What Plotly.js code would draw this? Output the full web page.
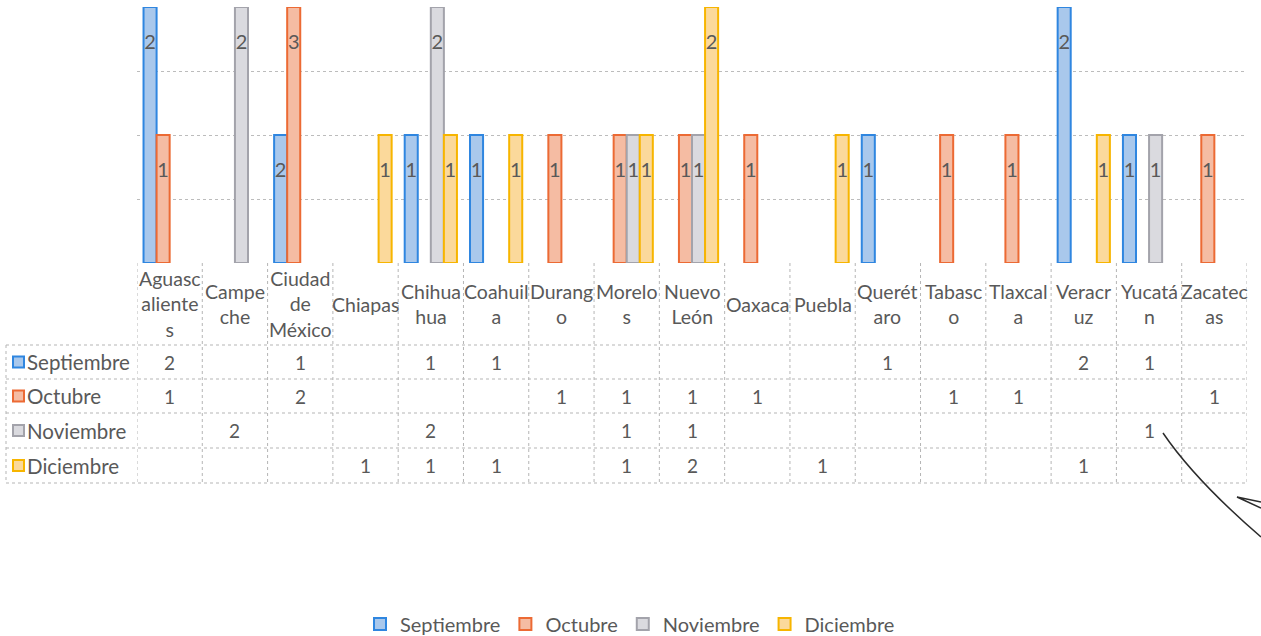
<!DOCTYPE html>
<html>
<head>
<meta charset="utf-8">
<script src="https://cdn.plot.ly/plotly-3.0.1.min.js"></script>
<style>html,body{margin:0;padding:0;background:#fff;}#chart{width:1261px;height:636px;}</style>
</head>
<body>
<div id="chart"></div>
<script>
// ---- Data ----
const categories = ['Aguascalientes','Campeche','Ciudad de México','Chiapas','Chihuahua','Coahuila','Durango','Morelos','Nuevo León','Oaxaca','Puebla','Querétaro','Tabasco','Tlaxcala','Veracruz','Yucatán','Zacatecas'];
const headerLabels = ['Aguasc<br>aliente<br>s','Campe<br>che','Ciudad<br>de<br>México','Chiapas','Chihua<br>hua','Coahuil<br>a','Durang<br>o','Morelo<br>s','Nuevo<br>León','Oaxaca','Puebla','Querét<br>aro','Tabasc<br>o','Tlaxcal<br>a','Veracr<br>uz','Yucatá<br>n','Zacatec<br>as'];
const seriesNames = ['Septiembre','Octubre','Noviembre','Diciembre'];
const septiembre = [2,null,1,null,1,1,null,null,null,null,null,1,null,null,2,1,null];
const octubre    = [1,null,2,null,null,null,1,1,1,1,null,null,1,1,null,null,1];
const noviembre  = [null,2,null,null,2,null,null,1,1,null,null,null,null,null,null,1,null];
const diciembre  = [null,null,null,1,1,1,null,1,2,null,1,null,null,null,1,null,null];
// data labels as printed on the bars
const septiembreLabels = ['2','','2','','1','1','','','','','','1','','','2','1',''];
const octubreLabels    = ['1','','3','','','','1','1','1','1','','','1','1','','','1'];
const noviembreLabels  = ['','2','','','2','','','1','1','','','','','','','1',''];
const diciembreLabels  = ['','','','1','1','1','','1','2','','1','','','','1','',''];

// ---- Style ----
const fills = ['#a9c8ec','#f5bca3','#dadadf','#fbd99b'];
const lines = ['#2f86e0','#ec6a34','#a3a3ab','#f7b500'];
const txt = '#595959';
const FONT = 'Lato, "Liberation Sans", sans-serif';

const W = 1261, H = 636;
const plotL = 137, plotR = 1247, plotT = 7, plotB = 263;
const pw = plotR - plotL, ph = plotB - plotT;
const px = v => (v - plotL) / pw;
const py = v => (plotB - v) / ph;

const values = [septiembre, octubre, noviembre, diciembre];
const labels = [septiembreLabels, octubreLabels, noviembreLabels, diciembreLabels];

const spacer = '<span style="color:rgba(0,0,0,0)">.</span><br>';
const traces = values.map((vals, k) => ({
  type: 'bar',
  name: seriesNames[k],
  x: categories,
  y: vals,
  text: labels[k],
  texttemplate: spacer + '<span style="font-size:20px">%{text}</span>',
  textposition: 'inside',
  insidetextanchor: 'end',
  textangle: 0,
  constraintext: 'none',
  textfont: {family: FONT, size: 17, color: txt},
  marker: {color: fills[k], line: {color: lines[k], width: 2}},
  hoverinfo: 'skip'
}));

// ---- Data table drawn below the plot ----
const rowLines = [345, 379, 413, 448, 483];
const rowCenters = [362, 396, 430.5, 465.5];
const headerCenter = 304;
const tableLeft = 6;
const gridLine = {color: '#b5b5b5', width: 1, dash: 'dot'};

const shapes = [];
const annotations = [];
rowLines.forEach(y => shapes.push({type: 'line', xref: 'paper', yref: 'paper', x0: px(tableLeft), x1: px(plotR), y0: py(y), y1: py(y), line: gridLine}));
for (let i = 0; i <= categories.length; i++) {
  shapes.push({type: 'line', xref: 'x', yref: 'paper', x0: i - 0.5, x1: i - 0.5, y0: py(plotB), y1: py(rowLines[rowLines.length - 1]), line: gridLine});
}
shapes.push({type: 'line', xref: 'paper', yref: 'paper', x0: px(tableLeft), x1: px(tableLeft), y0: py(rowLines[0]), y1: py(rowLines[rowLines.length - 1]), line: gridLine});

headerLabels.forEach((lab, i) => annotations.push({
  xref: 'x', yref: 'paper', x: i, y: py(headerCenter), text: lab, showarrow: false,
  xanchor: 'center', yanchor: 'middle', align: 'center',
  font: {family: FONT, size: 19.5, color: txt}
}));
values.forEach((vals, k) => {
  const yc = rowCenters[k];
  shapes.push({type: 'rect', xref: 'paper', yref: 'paper', x0: px(13), x1: px(24), y0: py(yc - 5.5), y1: py(yc + 5.5), fillcolor: fills[k], line: {color: lines[k], width: 2}});
  annotations.push({xref: 'paper', yref: 'paper', x: px(25), y: py(yc), text: seriesNames[k], showarrow: false, xanchor: 'left', yanchor: 'middle', font: {family: FONT, size: 20.5, color: txt}});
  vals.forEach((v, i) => {
    if (v !== null) annotations.push({xref: 'x', yref: 'paper', x: i, y: py(yc), text: String(v), showarrow: false, xanchor: 'center', yanchor: 'middle', font: {family: FONT, size: 19, color: txt}});
  });
});

// handwritten pen stroke on the scan
shapes.push({type: 'path', xref: 'paper', yref: 'paper', line: {color: '#2b2b2b', width: 1.5},
  path: `M ${px(1163)},${py(433)} Q ${px(1195)},${py(480)} ${px(1261)},${py(537)}`});
shapes.push({type: 'path', xref: 'paper', yref: 'paper', line: {color: '#2b2b2b', width: 1.5},
  path: `M ${px(1261)},${py(508)} L ${px(1237)},${py(497)} L ${px(1261)},${py(502)}`});

const layout = {
  width: W, height: H,
  margin: {l: plotL, r: W - plotR, t: plotT, b: H - plotB, autoexpand: false},
  paper_bgcolor: '#ffffff', plot_bgcolor: '#ffffff',
  barmode: 'group', bargap: 0.2, bargroupgap: 0,
  font: {family: FONT, size: 20, color: txt},
  xaxis: {type: 'category', showticklabels: false, showgrid: false, zeroline: false, showline: false, ticks: '', range: [-0.5, categories.length - 0.5], fixedrange: true, automargin: false},
  yaxis: {range: [0, 2], dtick: 0.5, showticklabels: false, showgrid: true, gridcolor: '#bcbcbc', griddash: 'dot', gridwidth: 1, zeroline: false, showline: false, ticks: '', fixedrange: true, automargin: false},
  showlegend: true,
  legend: {orientation: 'h', x: px(630), xanchor: 'center', y: py(624), yanchor: 'middle', font: {family: FONT, size: 20, color: txt}, itemclick: false, traceorder: 'normal', itemwidth: 30},
  shapes: shapes,
  annotations: annotations
};

Plotly.newPlot('chart', traces, layout, {displayModeBar: false, staticPlot: true});
</script>
</body>
</html>
